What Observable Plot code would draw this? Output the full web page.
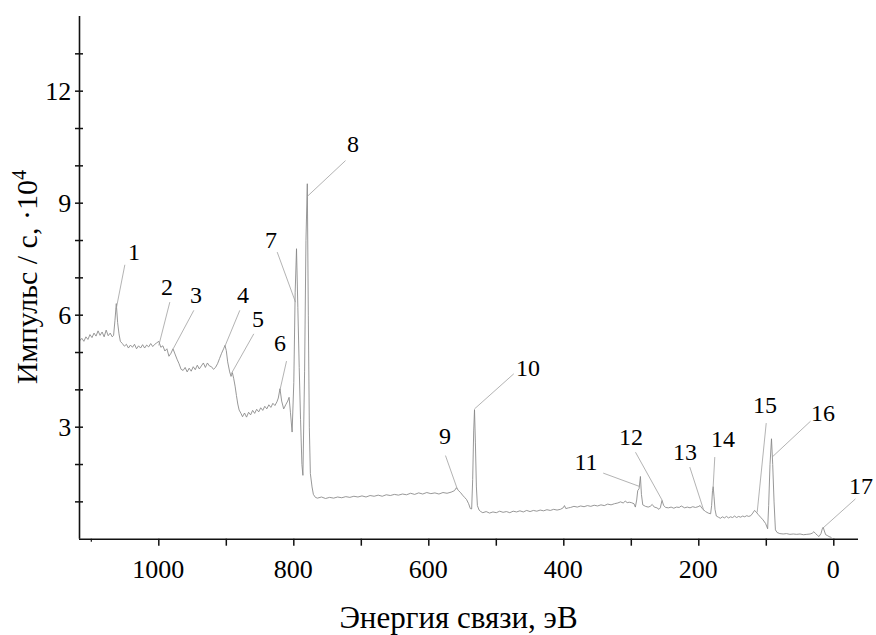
<!DOCTYPE html>
<html><head><meta charset="utf-8">
<script src="https://cdn.jsdelivr.net/npm/d3@7"></script>
<script src="https://cdn.jsdelivr.net/npm/@observablehq/plot@0.6"></script>
</head><body style="margin:0;background:#fff"><div id="chart" style="position:relative;width:876px;height:635px"></div>
<script>
// ---- scales / ticks ----
const xDomain = [1117.5, -36.6];
const yDomain = [0, 14];
const xTicksAll = [1000, 900, 800, 700, 600, 500, 400, 300, 200, 100, 0];
const xTicksLabeled = [1000, 800, 600, 400, 200, 0];
const xTicksShort = [1100];
const yTicksAll = [1, 2, 3, 4, 5, 6, 7, 8, 9, 10, 11, 12, 13];
const yTicksLabeled = [3, 6, 9, 12];
const xTitle = "Энергия связи, эВ";
const yTitle = "Импульс / с, ·10";
const yTitleSup = "4";

// ---- spectrum segments: [binding energy eV, counts ×10^4] ----
const segA = [[1117,5.32],[1114,5.38],[1111,5.30],[1108,5.42],[1105,5.35],[1102,5.48],[1099,5.40],[1096,5.52],[1093,5.44],[1090,5.58],[1087,5.46],[1084,5.55],[1081,5.42],[1078,5.60],[1075,5.45],[1072,5.52],[1069,5.42],[1067,5.46],[1065,5.85],[1063,6.31],[1061,5.80],[1059,5.50],[1057,5.30],[1054,5.24]];
const segB = [[1051,5.17],[1048,5.22],[1045,5.12],[1042,5.20],[1039,5.14],[1036,5.22],[1033,5.10],[1030,5.18],[1027,5.12],[1024,5.21],[1021,5.12],[1018,5.20],[1015,5.15],[1012,5.24],[1009,5.16],[1006,5.22],[1003,5.26],[1000,5.30],[997,5.14],[994,5.18],[991,5.04],[988,5.10],[985,4.90],[982,4.98],[979,5.10],[976,4.96],[973,4.82],[970,4.70],[967,4.55]];
const segC = [[964,4.52],[961,4.60],[958,4.48],[955,4.58],[952,4.50],[949,4.62],[946,4.54],[943,4.66],[940,4.56],[937,4.64],[934,4.72],[931,4.60],[928,4.72],[925,4.64],[922,4.62],[919,4.55],[916,4.60],[913,4.70],[910,4.84],[907,4.98],[904,5.10],[902,5.19],[900,5.05],[898,4.75],[895,4.48],[893,4.36],[891,4.46],[889,4.30],[887,4.10],[885,3.85],[883,3.62],[881,3.46],[878,3.36]];
const segD = [[876,3.28],[873,3.38],[870,3.27],[867,3.40],[864,3.33],[861,3.45],[858,3.37],[855,3.48],[852,3.41],[849,3.52],[846,3.45],[843,3.56],[840,3.49],[837,3.60],[834,3.53],[831,3.64],[828,3.58],[825,3.68],[823,3.78]];
const segE = [[820.5,4.03],[818,3.70],[815,3.49],[812,3.60],[809,3.70],[807,3.80],[805,3.40],[802.5,2.87],[800,4.2],[798,6.6],[796,7.78],[794,6.2],[792,4.6],[790,3.2],[788,2.0],[786.5,1.71],[784,4.5],[782,8.0],[780,9.52],[778.5,6.0],[777,3.0],[775.5,1.76],[773,1.40],[771,1.20],[768,1.12]];
const segF = [[765,1.10],[759,1.13],[753,1.09],[747,1.12],[741,1.10],[735,1.13],[729,1.11],[723,1.14],[717,1.12],[711,1.15],[705,1.13],[699,1.16],[693,1.13],[687,1.17],[681,1.15],[675,1.18],[669,1.15],[663,1.19],[657,1.17],[651,1.20],[645,1.18],[639,1.21],[633,1.19],[627,1.23],[621,1.20],[615,1.24],[609,1.21],[603,1.25],[597,1.22],[591,1.24],[585,1.21],[579,1.25],[573,1.23],[567,1.26],[562,1.30]];
const segG = [[559,1.38],[556,1.30],[553,1.25],[550,1.18],[547,1.12],[544,1.06],[541,0.95],[538.5,0.82],[536.5,0.81],[535,1.6],[533.5,2.9],[532.3,3.47],[531,2.6],[529.5,1.4],[528,0.9],[525.5,0.78],[523,0.74],[520,0.71],[515,0.74],[510,0.70],[505,0.73],[500,0.71],[495,0.75],[490,0.72],[485,0.74],[480,0.71],[475,0.75],[470,0.73],[465,0.76],[460,0.73],[455,0.77],[450,0.74],[445,0.77],[440,0.75],[435,0.78],[430,0.76],[425,0.79],[420,0.77],[415,0.80],[410,0.78],[405,0.80],[401,0.84],[399,0.90],[397,0.82]];
const segH = [[393,0.84],[390,0.85],[385,0.88],[380,0.86],[375,0.89],[370,0.87],[365,0.90],[360,0.88],[355,0.91],[350,0.89],[345,0.92],[340,0.90],[335,0.94],[330,0.92],[325,0.95],[320,0.97],[316,1.00],[312,0.97],[309,1.02],[306,0.98],[303,0.99],[300,0.98],[296,0.95]];
const segI = [[294,0.86],[292,1.05],[290.5,1.30],[288.5,1.35],[286.5,1.68],[285,1.2],[283,0.92],[279,0.88],[275,0.86],[272,0.88],[269,0.93],[266,0.86],[262,0.84],[259,0.80],[257,0.84],[254.5,1.04],[252,0.90],[249,0.85],[245,0.84],[241,0.86],[237,0.83],[233,0.86],[229,0.85],[226,0.89],[221,0.84],[217,0.86],[213,0.84],[209,0.87],[205,0.85],[201,0.87],[198,0.90],[195,0.82],[192.5,0.78],[190,0.74],[186,0.70],[182.5,0.68],[181,0.90],[179.7,1.30],[178.7,1.41],[177.5,1.15],[176,0.80],[174,0.62]];
const segJ = [[171,0.59],[168,0.56],[165,0.60],[162,0.57],[159,0.61],[156,0.57],[153,0.60],[150,0.58],[147,0.62],[144,0.58],[141,0.61],[138,0.59],[135,0.62],[132,0.60],[129,0.63],[126,0.61],[123,0.63],[120,0.70],[117.5,0.77],[115,0.73],[112,0.66],[108.5,0.59],[105,0.52],[101,0.42],[98,0.28],[96.5,0.9],[94.5,2.0],[92.3,2.69],[90.5,2.0],[88.5,1.0],[86.5,0.25]];
const segK = [[84,0.18],[80,0.15],[75,0.14],[70,0.15],[65,0.13],[60,0.14],[55,0.13],[50,0.14],[45,0.12],[40,0.13],[35,0.14],[32,0.16],[29.5,0.20],[27,0.15],[24,0.10],[22,0.07],[19,0.15],[17,0.28],[15.7,0.32],[14,0.22],[12,0.12],[9.8,0.10],[7,0.07],[4,0.05]];

// ---- peak annotations ----
const peakIds = ["1","2","3","4","5","6","7","8","9","10","11","12","13","14","15","16","17"];
const labelE = [1036.0, 987.1, 944.1, 874.5, 852.3, 819.7, 833.0, 711.6, 575.3, 452.3, 366.4, 299.7, 219.7, 163.4, 101.2, 15.3, -41.2];
const labelC = [7.67, 6.74, 6.53, 6.53, 5.89, 5.245, 8.0, 10.57, 2.75, 4.57, 2.055, 2.72, 2.32, 2.67, 3.58, 3.37, 1.41];
const leadE1 = [1050.3, 983.7, 948.1, 880.0, 859.3, 810.8, 824.6, 723.4, 575.3, 474.1, 341.6, 293.8, 213.3, 176.3, 100.1, 34.5, -32.1];
const leadC1 = [7.35, 6.35, 6.13, 6.13, 5.50, 4.77, 7.69, 10.14, 2.24, 4.43, 1.77, 2.33, 1.93, 2.20, 3.11, 3.16, 1.08];
const leadE2 = [1063.1, 1000.0, 978.7, 902.2, 892.7, 820.7, 797.5, 780.1, 557.9, 532.3, 287.4, 254.2, 192.6, 178.7, 113.5, 91.3, 17.2];
const leadC2 = [6.17, 5.19, 5.10, 5.16, 4.43, 3.98, 6.35, 9.18, 1.35, 3.49, 1.41, 1.04, 0.77, 1.41, 0.72, 2.20, 0.28];

const spectrum = [...segA, ...segB, ...segC, ...segD, ...segE, ...segF, ...segG, ...segH, ...segI, ...segJ, ...segK]
  .map(([e, c]) => ({e, c}));
const peaks = peakIds.map((id, i) => ({id, le: labelE[i], lc: labelC[i], x1: leadE1[i], y1: leadC1[i], x2: leadE2[i], y2: leadC2[i]}));

const chart = Plot.plot({
  width: 876,
  height: 635,
  marginLeft: 79,
  marginRight: 18,
  marginTop: 16,
  marginBottom: 96.3,
  style: {background: "white", color: "black", display: "block"},
  x: {domain: xDomain},
  y: {domain: yDomain},
  marks: [
    Plot.line(spectrum, {x: "e", y: "c", stroke: "#858585", strokeWidth: 0.85}),
    Plot.link(peaks, {x1: "x1", y1: "y1", x2: "x2", y2: "y2", stroke: "#a0a0a0", strokeWidth: 0.8}),
    Plot.ruleX([xDomain[0]], {stroke: "#111", strokeWidth: 1.6}),
    Plot.ruleY([yDomain[0]], {stroke: "#111", strokeWidth: 1.6}),
    Plot.axisX(xTicksAll, {tickSize: 7, stroke: "#111", strokeWidth: 1.5, text: null, label: null}),
    Plot.axisX(xTicksShort, {tickSize: 3, stroke: "#111", strokeWidth: 1.2, text: null, label: null}),
    Plot.axisY(yTicksAll, {tickSize: 8, dx: 4, stroke: "#111", strokeWidth: 1.5, text: null, label: null})
  ]
});
chart.querySelectorAll("text").forEach(t => t.remove());

const wrap = document.getElementById("chart");
wrap.appendChild(chart);
const sx = chart.scale("x"), sy = chart.scale("y");

function addLabel(html, left, top, size, transform) {
  const d = document.createElement("div");
  d.innerHTML = html;
  d.setAttribute("style",
    "position:absolute;left:" + left + "px;top:" + top + "px;font-family:'Liberation Serif';font-size:" + size +
    "px;line-height:1;white-space:nowrap;color:#000;transform:" + transform + ";");
  wrap.appendChild(d);
}

// x tick labels
xTicksLabeled.forEach(v => addLabel(String(v), sx.apply(v), sy.apply(yDomain[0]) + 31.5, 26, "translate(-50%,-50%)"));
// y tick labels
yTicksLabeled.forEach(v => addLabel(String(v), sx.apply(xDomain[0]) - 7.8, sy.apply(v) + 1, 26, "translate(-100%,-50%)"));
// peak labels
peaks.forEach(p => addLabel(p.id, sx.apply(p.le), sy.apply(p.lc), 24, "translate(-50%,-50%)"));
// axis titles
const frameMidX = (sx.apply(xDomain[0]) + sx.apply(xDomain[1])) / 2;
const frameMidY = (sy.apply(yDomain[0]) + sy.apply(yDomain[1])) / 2;
addLabel(xTitle, frameMidX - 10, sy.apply(yDomain[0]) + 78, 31, "translate(-50%,-50%)");
addLabel(yTitle + "<span style=\"font-size:0.68em;position:relative;top:-0.55em\">" + yTitleSup + "</span>",
  sx.apply(xDomain[0]) - 52, frameMidY, 30, "translate(-50%,-50%) rotate(-90deg)");
</script>
</body></html>
